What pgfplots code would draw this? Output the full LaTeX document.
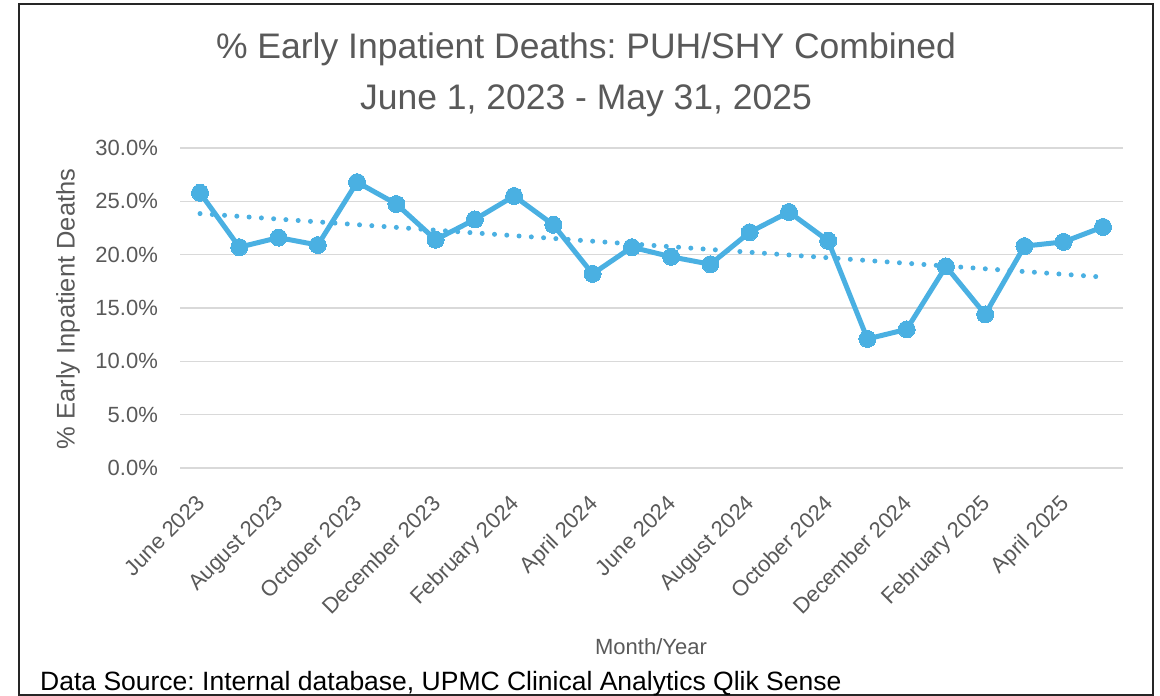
\documentclass[border=0pt]{standalone}
\usepackage{fontspec}
\setmainfont{Liberation Sans}
\usepackage{pgfplots}
\pgfplotsset{compat=1.18}
\definecolor{ser}{RGB}{74,176,226}
\definecolor{txt}{RGB}{89,89,89}
\definecolor{grd}{RGB}{217,217,217}
\frenchspacing
\begin{document}
\begin{tikzpicture}[x=1pt,y=1pt]
\path[use as bounding box] (0,0) rectangle (1160,696);
\draw[line width=2pt, color={black!85}] (19,1) rectangle (1153,692);
\begin{axis}[
  at={(180.4pt,228pt)}, anchor=south west,
  scale only axis, width=942.2pt, height=320pt,
  xmin=-0.5, xmax=23.5, ymin=0, ymax=30,
  axis line style={draw=none}, tick style={draw=none},
  ytick={0,5,10,15,20,25,30},
  yticklabels={0.0\%,5.0\%,10.0\%,15.0\%,20.0\%,25.0\%,30.0\%},
  ymajorgrids, grid style={grd, line width=1.5pt},
  xtick={0,2,...,22},
  xticklabels={June 2023,August 2023,October 2023,December 2023,February 2024,April 2024,June 2024,August 2024,October 2024,December 2024,February 2025,April 2025},
  tick label style={font=\fontsize{22}{22}\selectfont, text=txt},
  yticklabel style={xshift=-19pt},
  xticklabel style={rotate=45, anchor=north east, xshift=-18pt, yshift=-11pt},
  clip=false,
]
\addplot[ser, line width=5pt, line cap=round, dash pattern=on 0pt off 12.3pt] coordinates {(0,23.85) (23,17.9)};
\addplot[ser, line width=5pt, line join=round, mark=*, mark size=8.5pt, mark options={fill=ser, draw=ser, line width=0pt}] coordinates {
(0,25.8) (1,20.7) (2,21.6) (3,20.9) (4,26.8) (5,24.75) (6,21.4) (7,23.3) (8,25.5) (9,22.8) (10,18.2) (11,20.7)
(12,19.8) (13,19.1) (14,22.1) (15,24.0) (16,21.3) (17,12.1) (18,13.0) (19,18.9) (20,14.4) (21,20.8) (22,21.2) (23,22.6)};
\end{axis}
\node[anchor=base, text=txt, font=\fontsize{35.5}{35.5}\selectfont] at (586,637) {\% Early Inpatient Deaths: PUH/SHY Combined};
\node[anchor=base, text=txt, font=\fontsize{35.5}{35.5}\selectfont] at (586,586) {June 1, 2023 - May 31, 2025};
\node[rotate=90, text=txt, font=\fontsize{25.5}{25.5}\selectfont] at (68,387) {\% Early Inpatient Deaths};
\node[anchor=base, text=txt, font=\fontsize{22}{22}\selectfont] at (651,41) {Month/Year};
\node[anchor=base west, inner sep=0pt, text=black, font=\fontsize{26.5}{26.5}\selectfont] at (40,5) {Data Source: Internal database, UPMC Clinical Analytics Qlik Sense};
\end{tikzpicture}
\end{document}
